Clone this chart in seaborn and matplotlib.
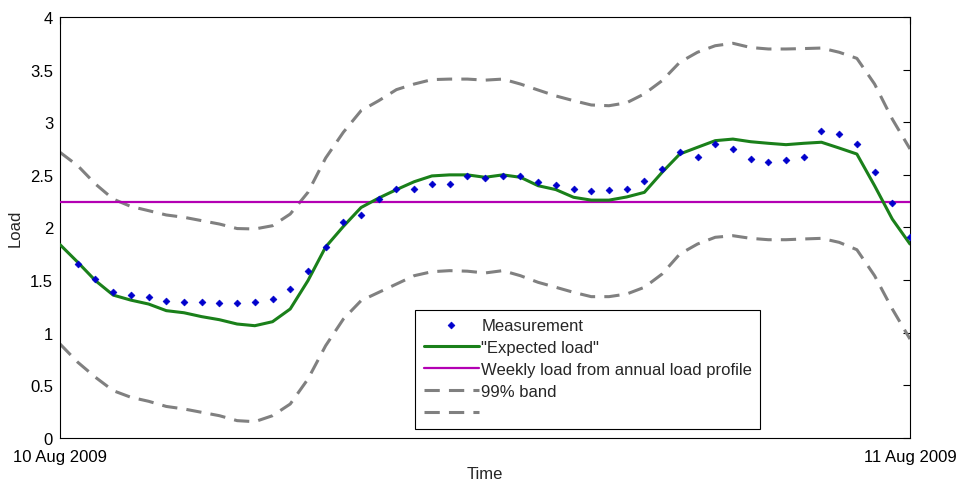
import matplotlib
matplotlib.use("Agg")
import matplotlib.pyplot as plt
import seaborn as sns
import numpy as np
import pandas as pd

# half-hour steps over one day (hours)
hours = [i * 0.5 for i in range(49)]

measurement = [None, 1.65, 1.51, 1.39, 1.356, 1.343, 1.30, 1.292, 1.292, 1.28, 1.28,
               1.29, 1.318, 1.416, 1.59, 1.815, 2.05, 2.12, 2.27, 2.37, 2.366,
               2.41, 2.41, 2.49, 2.467, 2.49, 2.486, 2.43, 2.40, 2.37, 2.347,
               2.356, 2.37, 2.445, 2.556, 2.714, 2.667, 2.793, 2.743, 2.654, 2.619,
               2.641, 2.667, 2.917, 2.89, 2.79, 2.53, 2.233, 1.91]

expected = [1.837, 1.67, 1.495, 1.358, 1.31, 1.273, 1.21, 1.19, 1.153, 1.124, 1.083,
            1.067, 1.105, 1.226, 1.495, 1.815, 2.01, 2.19, 2.28, 2.36, 2.435,
            2.49, 2.50, 2.50, 2.477, 2.50, 2.477, 2.397, 2.36, 2.287, 2.26,
            2.26, 2.29, 2.334, 2.524, 2.698, 2.762, 2.825, 2.84, 2.815, 2.80,
            2.787, 2.80, 2.81, 2.755, 2.698, 2.397, 2.08, 1.843]

upper = [2.714, 2.587, 2.413, 2.27, 2.20, 2.16, 2.119, 2.097, 2.065, 2.033, 1.99,
         1.986, 2.017, 2.128, 2.334, 2.66, 2.905, 3.11, 3.205, 3.31, 3.363,
         3.405, 3.41, 3.41, 3.40, 3.41, 3.363, 3.306, 3.25, 3.205, 3.164,
         3.157, 3.185, 3.27, 3.395, 3.57, 3.665, 3.727, 3.75, 3.71, 3.696,
         3.696, 3.70, 3.705, 3.665, 3.607, 3.363, 3.03, 2.746]

lower = [0.893, 0.72, 0.577, 0.45, 0.387, 0.349, 0.30, 0.276, 0.244, 0.212, 0.165,
         0.155, 0.212, 0.323, 0.56, 0.877, 1.13, 1.305, 1.384, 1.463, 1.542,
         1.58, 1.59, 1.585, 1.568, 1.59, 1.542, 1.479, 1.432, 1.384, 1.343,
         1.343, 1.368, 1.432, 1.558, 1.748, 1.843, 1.907, 1.922, 1.897, 1.884,
         1.884, 1.891, 1.897, 1.859, 1.789, 1.542, 1.226, 0.94]

weekly_load = 2.245

x_tick_pos = [0, 24]
x_tick_labels = ["10 Aug 2009", "11 Aug 2009"]
y_ticks = [0, 0.5, 1, 1.5, 2, 2.5, 3, 3.5, 4]
y_tick_labels = ["0", "0.5", "1", "1.5", "2", "2.5", "3", "3.5", "4"]

df = pd.DataFrame({"hour": hours, "measurement": measurement, "expected": expected,
                   "upper": upper, "lower": lower})
df["weekly"] = weekly_load

sns.set_style("white")
plt.rcParams["font.family"] = ["Liberation Sans", "DejaVu Sans"]

fig = plt.figure(figsize=(9.59, 4.81), dpi=100)
ax = fig.add_axes([0.0626, 0.0873, 0.8863, 0.8753])

gray = (0.5, 0.5, 0.5)
sns.scatterplot(data=df.dropna(), x="hour", y="measurement", ax=ax, marker="D",
                s=12, color=(0.0, 0.0, 0.8), edgecolor=(0.0, 0.0, 0.8),
                linewidth=0.5, zorder=5)
sns.lineplot(data=df, x="hour", y="expected", ax=ax, color=(0.1, 0.5, 0.1), lw=2.2, zorder=4)
sns.lineplot(data=df, x="hour", y="weekly", ax=ax, color=(0.7, 0.0, 0.7), lw=1.6, zorder=3)
sns.lineplot(data=df, x="hour", y="upper", ax=ax, color=gray, lw=2.2, zorder=2)
sns.lineplot(data=df, x="hour", y="lower", ax=ax, color=gray, lw=2.2, zorder=2)

lines = ax.get_lines()
for ln in lines[2:]:
    ln.set_dashes([5, 3])

handles = [ax.collections[0]] + list(lines)
labels = ["Measurement", '"Expected load"', "Weekly load from annual load profile",
          "99% band", ""]
leg = ax.legend(handles, labels, loc="lower left", bbox_to_anchor=(0.418, 0.021),
                frameon=True, fancybox=False, framealpha=1, edgecolor="black",
                fontsize=12, handlelength=3.3, handletextpad=0.15, borderpad=0.5,
                labelspacing=0.42, borderaxespad=0)
leg.get_frame().set_linewidth(0.8)

ax.set_xlim(0, 24)
ax.set_ylim(0, 4)
ax.set_xticks(x_tick_pos)
ax.set_xticklabels(x_tick_labels, fontsize=12)
ax.set_yticks(y_ticks)
ax.set_yticklabels(y_tick_labels, fontsize=12)
ax.tick_params(axis="y", direction="in", length=5, width=0.8, right=True,
               labelright=False, pad=5, colors="black")
ax.tick_params(axis="x", direction="in", length=5, width=0.8, top=True,
               pad=8, colors="black")
ax.set_xlabel("Time", fontsize=12, labelpad=1)
ax.set_ylabel("Load", fontsize=12, labelpad=5)
for sp in ax.spines.values():
    sp.set_visible(True)
    sp.set_color("black")
    sp.set_linewidth(0.8)

fig.savefig("out.png", dpi=100, facecolor="white")
